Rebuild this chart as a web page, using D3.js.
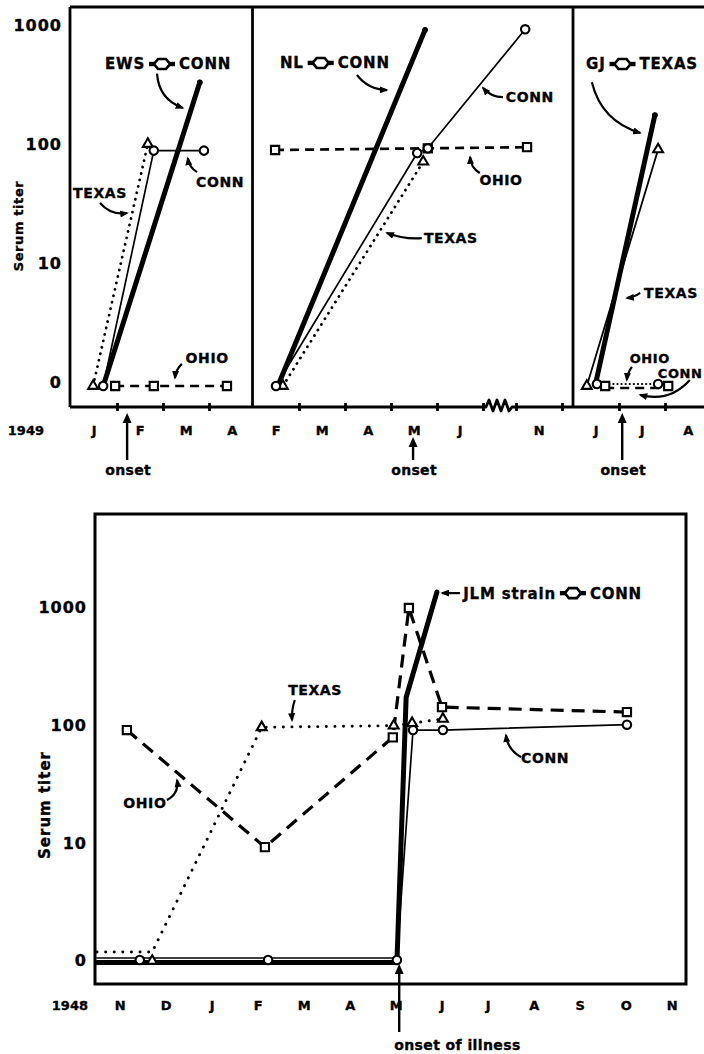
<!DOCTYPE html>
<html><head><meta charset="utf-8">
<script src="https://cdn.jsdelivr.net/npm/d3@7"></script>
<style>body{margin:0;background:#fff}svg{display:block}text{stroke:#000;stroke-width:0.35px}</style>
</head><body>
<svg id="c" width="704" height="1054"></svg>
<script>
// ---------------- DATA ----------------
// Titer tick values (0 is drawn at the position of titer 1 on the log axis)
const titerTicks = [0, 10, 100, 1000];

// Top figure (1949), months counted from 1 Jan 1949
const p1MonthIdx = [0, 1, 2, 3];            const p1Months = ["J", "F", "M", "A"];
const p2MonthIdx = [1, 2, 3, 4, 5, 10];     const p2Months = ["F", "M", "A", "M", "J", "N"];
const p3MonthIdx = [5, 6, 7];               const p3Months = ["J", "J", "A"];

// Panel EWS  [month, titer]
const ewsStrain = [[0.70, 0], [2.80, 330]];
const ewsConn   = [[0.70, 0], [1.80, 88], [2.89, 88]];
const ewsTexas  = [[0.48, 0], [1.67, 100]];
const ewsOhio   = [[0.96, 0], [1.80, 0], [3.39, 0]];
// Panel NL
const nlStrain = [[1.54, 0], [4.74, 910]];
const nlConn   = [[1.50, 0], [4.57, 84], [4.80, 92], [10.20, 920]];
const nlTexas  = [[1.65, 0], [4.70, 71]];
const nlOhio   = [[1.48, 89], [4.80, 92], [10.24, 94]];
// Panel GJ
const gjStrain = [[5.48, 0], [6.78, 175]];
const gjTexas  = [[5.30, 0], [6.85, 90]];
const gjConn   = [[5.52, 0], [6.85, 0]];
const gjOhio   = [[5.70, 0], [7.07, 0]];
const topOnsets = [1.22, 4.48, 6.07];

// Bottom figure (1948-49), months counted from 1 Nov 1948
const botMonthIdx = [0,1,2,3,4,5,6,7,8,9,10,11,12];
const botMonths = ["N","D","J","F","M","A","M","J","J","A","S","O","N"];
const jlmStrain = [[0, 0], [6.52, 0], [6.72, 170], [7.39, 1340]];
const jlmConn   = [[0, 0], [0.93, 0], [3.72, 0], [6.52, 0], [6.87, 90], [7.52, 90], [11.52, 100]];
const jlmTexas  = [[0, 0], [1.20, 0], [3.58, 95], [6.45, 98], [6.85, 103], [7.52, 112]];
const jlmOhio   = [[0.65, 90], [3.65, 9.1], [6.43, 78], [6.78, 980], [7.50, 141], [11.52, 128]];
const botOnset = 6.57;

// ---------------- LAYOUT / STYLE ----------------
const FONT = "'DejaVu Sans', Verdana, sans-serif";
const svg = d3.select("#c");
const defs = svg.append("defs");
defs.append("marker").attr("id","ah").attr("viewBox","0 0 10 8").attr("refX",8).attr("refY",4)
  .attr("markerWidth",9).attr("markerHeight",7).attr("markerUnits","userSpaceOnUse").attr("orient","auto")
  .append("path").attr("d","M0,0 L10,4 L0,8 Z").attr("fill","#000");

const yTop = d3.scaleLog().domain([1, 1000]).range([382, 25]);
const x1 = d3.scaleLinear().domain([0, 4]).range([71, 255]);
const x2 = d3.scaleLinear().domain([1, 6, 10, 11.25]).range([253, 483, 516, 573.5]);
const x3 = d3.scaleLinear().domain([5, 8]).range([573, 711]);
const yBot = d3.scaleLog().domain([1, 1000]).range([960, 607]);
const xBot = d3.scaleLinear().domain([0, 12]).range([97, 649]);

const ST = {
  strain: {w: 5, dash: null, cap: "round", marker: null, endDot: true},
  conn:   {w: 1.7, dash: null, cap: "round", marker: "circle"},
  texas:  {w: 2.8, dash: "0.1,6.5", cap: "round", marker: "triangle"},
  texasSolid: {w: 1.8, dash: null, cap: "round", marker: "triangle"},
  connDot: {w: 2.2, dash: "0.1,4", cap: "round", marker: "circle"},
  ohio:   {w: 2.7, dash: "9,6", cap: "butt", marker: "square"},
  ohioBig:{w: 3.2, dash: "13,8", cap: "butt", marker: "square"},
  texasBig: {w: 2.9, dash: "0.1,8.5", cap: "round", marker: "triangle"}
};
const symType = {circle: d3.symbolCircle, square: d3.symbolSquare, triangle: d3.symbolTriangle};
const symSize = {circle: 56, square: 68, triangle: 42};

function drawSeries(g, xs, ys, data, st, o) {
  o = o || {};
  const zl = o.zeroLine || 0, zm = (o.zeroMarker !== undefined) ? o.zeroMarker : zl;
  const line = d3.line().x(d => xs(d[0])).y(d => d[1] === 0 ? ys(1) + zl : ys(d[1]));
  g.append("path").attr("d", line(data)).attr("fill", "none").attr("stroke", "#000")
    .attr("stroke-width", st.w).attr("stroke-dasharray", st.dash).attr("stroke-linecap", st.cap)
    .attr("stroke-linejoin", "round");
  return {xs, ys, data, st, zm, skip: o.skipFirst ? 1 : 0, noDot: !!o.noDot};
}
function drawMarkers(s) {
  const g = svg.append("g");
  if (s.st.marker) {
    s.data.slice(s.skip).forEach(d => {
      g.append("path").attr("d", d3.symbol().type(symType[s.st.marker]).size(symSize[s.st.marker])())
        .attr("transform", `translate(${s.xs(d[0])},${d[1] === 0 ? s.ys(1) + s.zm : s.ys(d[1])})`)
        .attr("fill", "#fff").attr("stroke", "#000").attr("stroke-width", 2.1);
    });
  }
  if (s.st.endDot && !s.noDot) {
    const d = s.data[s.data.length - 1];
    g.append("circle").attr("cx", s.xs(d[0])).attr("cy", s.ys(d[1])).attr("r", 2.9).attr("fill", "#000");
  }
}
function txt(x, y, s, size, anchor, extra) {
  const t = svg.append("text").attr("x", x).attr("y", y).attr("dy", "0.36em").text(s)
    .attr("font-family", FONT).attr("font-weight", "bold").attr("font-size", size)
    .attr("text-anchor", anchor || "middle").attr("letter-spacing", (extra && extra.ls !== undefined) ? extra.ls : 0.6);
  if (extra && extra.rot) t.attr("transform", `rotate(-90,${x},${y})`);
  return t;
}
function strainLabel(x, y, left, right, size, align) {
  const grp = svg.append("g");
  const mk = (tx, s) => grp.append("text").attr("x", tx).attr("y", 0).attr("dy", "0.36em").text(s)
    .attr("font-family", FONT).attr("font-weight", "bold").attr("font-size", size).attr("letter-spacing", 0.8);
  const t1 = mk(0, left);
  const w1 = t1.node().getComputedTextLength();
  const sx = w1 + 17;
  grp.append("rect").attr("x", sx - 13).attr("y", -2.2).attr("width", 6).attr("height", 4.4).attr("fill", "#000");
  grp.append("rect").attr("x", sx + 7).attr("y", -2.2).attr("width", 6).attr("height", 4.4).attr("fill", "#000");
  grp.append("path").attr("d", `M${sx-8},0 L${sx-4},-5 L${sx+4},-5 L${sx+8},0 L${sx+4},5 L${sx-4},5 Z`)
    .attr("fill", "#fff").attr("stroke", "#000").attr("stroke-width", 2.6);
  const t2 = mk(sx + 17, right);
  const w = sx + 17 + t2.node().getComputedTextLength();
  grp.attr("transform", `translate(${align === "start" ? x : x - w / 2},${y})`);
}
function arrow(xs, ys, from, to, bend) {
  const [ax, ay] = [xs(from[0]), ys(from[1])], [bx, by] = [xs(to[0]), ys(to[1])];
  const dx = bx - ax, dy = by - ay, L = Math.hypot(dx, dy) || 1;
  const cx = (ax + bx) / 2 - dy / L * bend, cy = (ay + by) / 2 + dx / L * bend;
  svg.append("path").attr("d", `M${ax},${ay} Q${cx},${cy} ${bx},${by}`).attr("fill", "none")
    .attr("stroke", "#000").attr("stroke-width", 2.2).attr("marker-end", "url(#ah)");
}
function onsetArrow(x, tipY, endY) {
  svg.append("line").attr("x1", x).attr("x2", x).attr("y1", tipY + 6).attr("y2", endY)
    .attr("stroke", "#000").attr("stroke-width", 2.4);
  svg.append("path").attr("d", `M${x},${tipY} L${x-4.5},${tipY+10} L${x+4.5},${tipY+10} Z`).attr("fill", "#000");
}

// ---------------- TOP FIGURE ----------------
const topY0 = 7, axisY = 407, leftX = 70;
const gTop = svg.append("g");
gTop.append("line").attr("x1", leftX).attr("x2", 704).attr("y1", topY0).attr("y2", topY0).attr("stroke","#000").attr("stroke-width",2.8);
[leftX, x2(1) - 0.5, x3(5)].forEach(bx =>
  gTop.append("line").attr("x1", bx).attr("x2", bx).attr("y1", topY0).attr("y2", axisY).attr("stroke","#000").attr("stroke-width",2.8));
// axis line with break
const bA = x2(6);
gTop.append("path").attr("d",
  `M${leftX},${axisY} H${bA+3} L${bA+6},${axisY-7} L${bA+10},${axisY+4} L${bA+14},${axisY-7} L${bA+18},${axisY+4} L${bA+22},${axisY-7} L${bA+26},${axisY+4} L${bA+29},${axisY} H704`)
  .attr("fill","none").attr("stroke","#000").attr("stroke-width",2.8).attr("stroke-linejoin","round");

// y axis labels
const yAxT = d3.axisLeft(yTop).tickValues(titerTicks.map(v => v === 0 ? 1 : v))
  .tickFormat(v => v === 1 ? "0" : String(v)).tickSize(0).tickPadding(8);
const gy = svg.append("g").attr("transform", `translate(${leftX},0)`).call(yAxT);
gy.select(".domain").remove();
gy.selectAll("text").attr("font-family", FONT).attr("font-weight","bold").attr("font-size",16).attr("letter-spacing",1).attr("dy","0.36em");
txt(18, 226, "Serum  titer", 13, "middle", {rot: true, ls: 0.6});

// x axes (ticks + month labels)
function monthAxis(xs, idx, labels, tickVals, y) {
  const tk = svg.append("g").attr("transform", `translate(0,${y - 4})`)
    .call(d3.axisBottom(xs).tickValues(tickVals).tickSize(8).tickFormat(""));
  tk.select(".domain").remove();
  tk.selectAll("line").attr("stroke-width", 2.8);
  const lb = svg.append("g").attr("transform", `translate(0,${y})`)
    .call(d3.axisBottom(xs).tickValues(idx.map(i => i + 0.5)).tickFormat((d, i) => labels[i]).tickSize(0));
  lb.select(".domain").remove();
  lb.selectAll("text").attr("y", 23).attr("dy", "0.36em").attr("font-family", FONT)
    .attr("font-weight", "bold").attr("font-size", 13).attr("letter-spacing", 0.5);
}
monthAxis(x1, p1MonthIdx, p1Months, [1, 2, 3], axisY);
monthAxis(x2, p2MonthIdx, p2Months, [2, 3, 4, 5, 6, 10, 11], axisY);
monthAxis(x3, p3MonthIdx, p3Months, [6, 7], axisY);
txt(44, 430, "1949", 13, "end", {ls: 0});

// onset arrows
[[x1, 0, 413], [x2, 1, 437], [x3, 2, 413]].forEach(([xs, i, tip]) => {
  const x = xs(topOnsets[i]);
  onsetArrow(x, tip, 460);
  txt(x + 1, 470, "onset", 14, "middle", {ls: 0.3});
});

// series
const gL = svg.append("g");
const ser = [];
const tz = {zeroLine: 4};
ser.push(drawSeries(gL, x1, yTop, ewsOhio, ST.ohio, tz));
ser.push(drawSeries(gL, x1, yTop, ewsTexas, ST.texas, tz));
ser.push(drawSeries(gL, x1, yTop, ewsConn, ST.conn, tz));
ser.push(drawSeries(gL, x1, yTop, ewsStrain, ST.strain, tz));
ser.push(drawSeries(gL, x2, yTop, nlOhio, ST.ohio, tz));
ser.push(drawSeries(gL, x2, yTop, nlTexas, ST.texas, tz));
ser.push(drawSeries(gL, x2, yTop, nlConn, ST.conn, tz));
ser.push(drawSeries(gL, x2, yTop, nlStrain, ST.strain, tz));
ser.push(drawSeries(gL, x3, yTop, gjConn, ST.connDot, {zeroLine: 2}));
ser.push(drawSeries(gL, x3, yTop, gjOhio, ST.ohio, {zeroLine: 6, zeroMarker: 4}));
ser.push(drawSeries(gL, x3, yTop, gjTexas, ST.texasSolid, tz));
ser.push(drawSeries(gL, x3, yTop, gjStrain, ST.strain, tz));

// annotations top
strainLabel(x1(2.11), yTop(470), "EWS", "CONN", 15, "middle");
arrow(x1, yTop, [1.87, 390], [2.43, 201], 14);
txt(x1(3.24), yTop(48), "CONN", 14);
arrow(x1, yTop, [2.74, 58], [2.54, 76], -4);
txt(x1(0.63), yTop(38.7), "TEXAS", 14);
arrow(x1, yTop, [0.63, 31.9], [1.22, 26.3], 8);
txt(x1(2.96), yTop(1.59), "OHIO", 14);
arrow(x1, yTop, [2.41, 1.42], [2.26, 1.08], 3);

strainLabel(x2(2.78), yTop(480), "NL", "CONN", 15, "middle");
arrow(x2, yTop, [3.26, 380], [3.91, 284], 8);
txt(x2(10.3), yTop(248), "CONN", 14);
arrow(x2, yTop, [8.42, 248], [6.0, 296], -5);
txt(x2(8.18), yTop(49.8), "OHIO", 14);
arrow(x2, yTop, [5.93, 57], [5.72, 77.8], -5);
txt(x2(5.3), yTop(16.2), "TEXAS", 14);
arrow(x2, yTop, [4.67, 16.2], [3.91, 17.9], -4);

strainLabel(x3(6.5), yTop(470), "GJ", "TEXAS", 15, "middle");
arrow(x3, yTop, [5.41, 330], [6.46, 124], 20);
txt(x3(7.13), yTop(5.6), "TEXAS", 14);
arrow(x3, yTop, [6.46, 5.6], [6.17, 5.08], -2);
txt(x3(6.67), yTop(1.59), "OHIO", 13);
arrow(x3, yTop, [6.28, 1.34], [6.17, 1.04], 2);
txt(x3(7.33), yTop(1.19), "CONN", 13);
arrow(x3, yTop, [7.54, 1.04], [6.46, 0.78], -16);

// ---------------- BOTTOM FIGURE ----------------
svg.append("rect").attr("x", 95).attr("y", 514).attr("width", 591).attr("height", 470)
  .attr("fill", "none").attr("stroke", "#000").attr("stroke-width", 3);
const yAxB = d3.axisLeft(yBot).tickValues(titerTicks.map(v => v === 0 ? 1 : v))
  .tickFormat(v => v === 1 ? "0" : String(v)).tickSize(0).tickPadding(8);
const gyb = svg.append("g").attr("transform", "translate(95,0)").call(yAxB);
gyb.select(".domain").remove();
gyb.selectAll("text").attr("font-family", FONT).attr("font-weight","bold").attr("font-size",16).attr("letter-spacing",1).attr("dy","0.36em");
txt(45, 805, "Serum  titer", 15, "middle", {rot: true, ls: 1});
const lbB = svg.append("g").attr("transform", "translate(0,984)")
  .call(d3.axisBottom(xBot).tickValues(botMonthIdx.map(i => i + 0.5)).tickFormat((d, i) => botMonths[i]).tickSize(0));
lbB.select(".domain").remove();
lbB.selectAll("text").attr("y", 21).attr("dy", "0.36em").attr("font-family", FONT)
  .attr("font-weight", "bold").attr("font-size", 13).attr("letter-spacing", 0.5);
txt(88, 1005, "1948", 13, "end", {ls: 0});
onsetArrow(xBot(botOnset), 964, 1032);
txt(xBot(botOnset) - 5, 1045, "onset of illness", 14, "start", {ls: 0.4});

const gB = svg.append("g");
ser.push(drawSeries(gB, xBot, yBot, jlmTexas, ST.texasBig, {zeroLine: -8, zeroMarker: 1, skipFirst: true}));
ser.push(drawSeries(gB, xBot, yBot, jlmOhio, ST.ohioBig));
ser.push(drawSeries(gB, xBot, yBot, jlmStrain, ST.strain, {zeroLine: 2.5, noDot: true}));
ser.push(drawSeries(gB, xBot, yBot, jlmConn, ST.conn, {zeroLine: -2, zeroMarker: 0, skipFirst: true}));
ser.forEach(drawMarkers);

// annotations bottom
txt(xBot(4.74), yBot(197), "TEXAS", 14);
arrow(xBot, yBot, [4.30, 162], [4.24, 109], 2);
txt(xBot(1.04), yBot(21.6), "OHIO", 14);
arrow(xBot, yBot, [1.52, 22.9], [1.74, 33.8], 8);
arrow(xBot, yBot, [7.89, 1312], [7.5, 1312], 0);
strainLabel(xBot(7.96), yBot(1312), "JLM  strain", "CONN", 15, "start");
txt(xBot(9.74), yBot(52), "CONN", 14);
arrow(xBot, yBot, [9.22, 53], [8.89, 81.6], -7);
</script>
</body></html>
